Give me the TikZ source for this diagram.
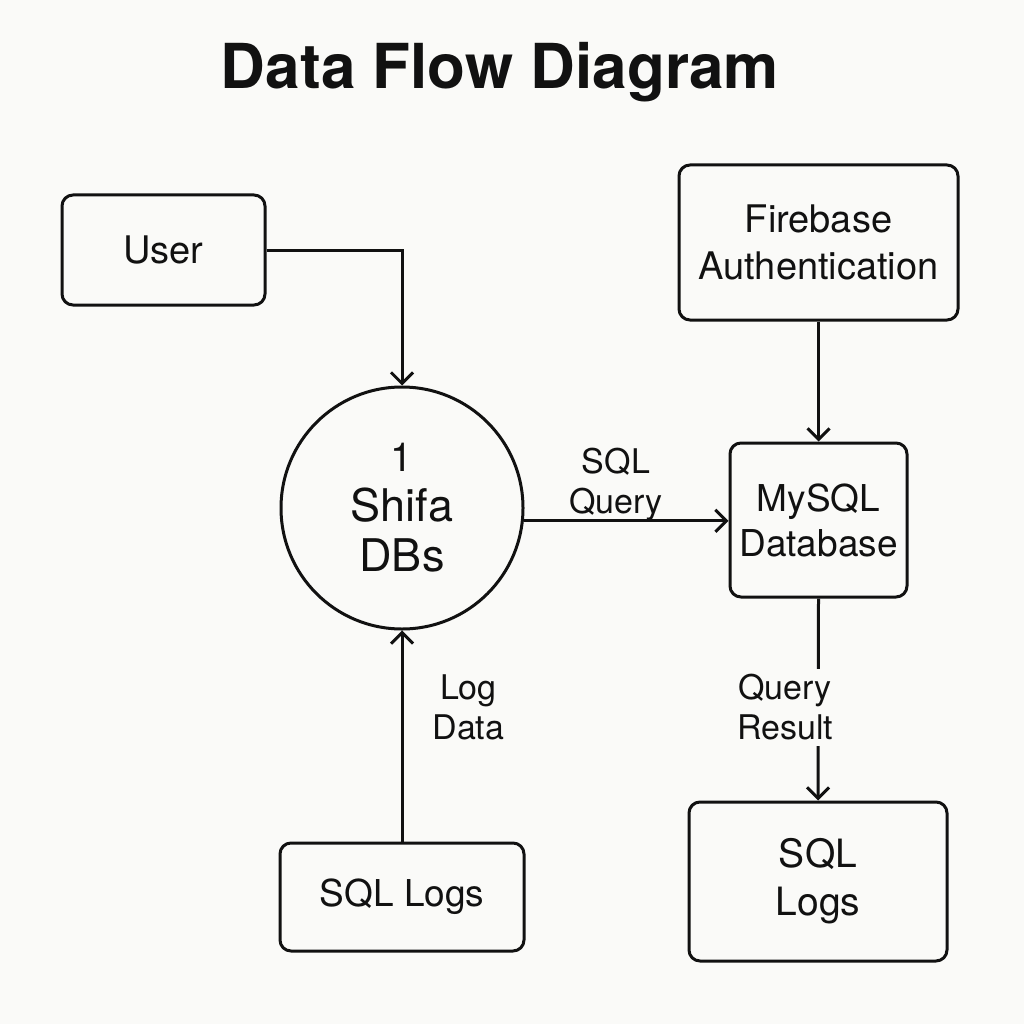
\documentclass[tikz,border=0pt]{standalone}
\usepackage{fontspec}
\setmainfont{TeX Gyre Heros}
\usetikzlibrary{arrows.meta}
\definecolor{bg}{HTML}{FAFAF8}
\definecolor{ink}{HTML}{111111}
\tikzset{
  box/.style={draw=ink, line width=3pt, rounded corners=11pt, align=center, inner sep=0pt},
  proc/.style={draw=ink, line width=3pt, circle, align=center, inner sep=0pt, minimum size=242pt},
  flow/.style={draw=ink, line width=3pt, -{Straight Barb[length=11pt,width=22pt,line width=3pt]}},
  lbl/.style={align=center, font=\fontsize{34}{40}\selectfont, inner sep=2pt, text=ink},
  boxtext/.style={font=\fontsize{38}{47}\selectfont, text=ink},
}
\begin{document}
\begin{tikzpicture}[x=1pt,y=-1pt]
\fill[bg] (0,0) rectangle (1024,1024);
\useasboundingbox (0,0) rectangle (1024,1024);

\node[font=\bfseries\fontsize{62}{70}\selectfont, text=ink] (title) at (500,72) {Data Flow Diagram};

\node[box, boxtext, minimum width=203pt, minimum height=110pt] (user) at (163.5,250) {User};
\node[box, boxtext, minimum width=279pt, minimum height=155pt] (fb) at (818.5,242.5) {Firebase\\Authentication};
\node[proc, font=\fontsize{45}{50}\selectfont, text=ink] (circ) at (402,508) {{\fontsize{40}{46}\selectfont 1}\\Shifa\\DBs};
\node[box, font=\fontsize{37}{45}\selectfont, text=ink, minimum width=177pt, minimum height=154pt] (my) at (818.5,520) {MySQL\\Database};
\node[box, font=\fontsize{37}{45}\selectfont, text=ink, minimum width=244pt, minimum height=108pt] (llogs) at (402,897) {SQL Logs};
\node[box, font=\fontsize{39}{48}\selectfont, text=ink, minimum width=258pt, minimum height=159pt] (rlogs) at (818,881.5) {SQL\\Logs};

\draw[flow] (user.east) -| (circ.north);
\draw[flow] (fb.south) -- (my.north);
\draw[flow] (circ.-6.6) -- (circ.-6.6 -| my.west)
  node[lbl, pos=0.45, above=-4pt] (sqlq) {SQL\\Query};
\draw[flow] (llogs.north) -- (circ.south)
  node[lbl, pos=0.634, right=27pt] (logd) {Log\\Data};
\draw[flow] (my.south) -- (rlogs.north)
  node[lbl, fill=bg, pos=0.5, xshift=-33pt, yshift=-8pt, inner ysep=6pt] (qres) {Query\\Result};
\end{tikzpicture}
\end{document}
